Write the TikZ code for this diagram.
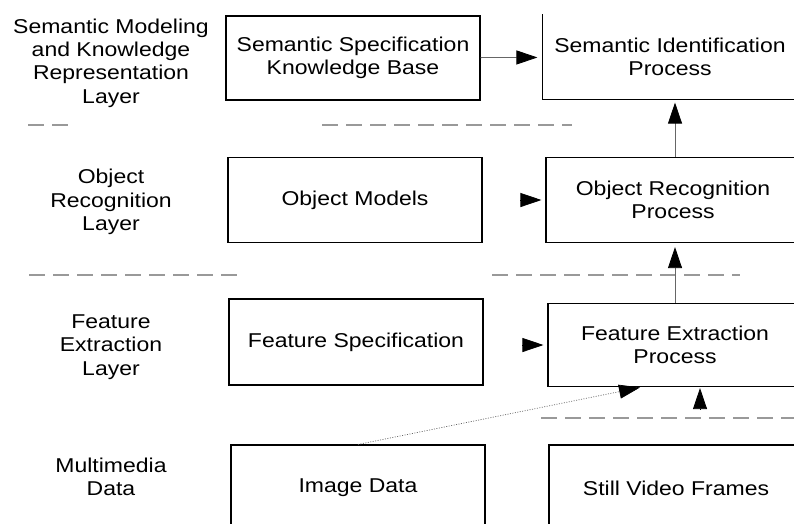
\documentclass[tikz,border=0pt]{standalone}
\usepackage{fontspec}
\setmainfont{Liberation Sans}[FakeStretch=1.15]
\usetikzlibrary{arrows.meta}

\begin{document}
\begin{tikzpicture}[x=1pt,y=-1pt,
    every node/.style={font=\fontsize{20pt}{23.3pt}\selectfont, align=center, inner sep=0pt},
    box/.style={draw=black, line width=1.1pt, minimum width=254pt, minimum height=85pt},
    link/.style={draw=linkcolor, line width=0.8pt, -{Triangle[length=21pt,width=14pt,color=black]}},
    head/.style={-{Triangle[length=21pt,width=14pt]}, line width=0.8pt},
    sep/.style={draw=sepcolor, line width=1.2pt, dash pattern=on 16pt off 8pt}]

    \colorlet{linkcolor}{black!60}
    \colorlet{sepcolor}{black!40}

    \useasboundingbox (0,0) rectangle (794,523);

    % layer names
    \node (semlayer) at (111,63) {Semantic Modeling\\and Knowledge\\Representation\\Layer};
    \node (objlayer) at (111,202) {Object\\Recognition\\Layer};
    \node (featlayer) at (111,347) {Feature\\Extraction\\Layer};
    \node (datalayer) at (111,477) {Multimedia\\Data};

    % boxes
    \node[box, minimum height=84pt] (skb) at (353,58) {Semantic Specification\\Knowledge Base};
    \node[box, draw=none, minimum height=84pt] (sid) at (670,57) {Semantic Identification\\Process};
    \draw[line width=1.1pt] (sid.north west) -- (sid.south west) -- (sid.south east);

    \node[box] (om) at (355,200) {Object Models};
    \node[box] (orp) at (673,200) {Object Recognition\\Process};

    \node[box, minimum height=86pt] (fs) at (356,342) {Feature Specification};
    \node[box, minimum height=83pt] (fex) at (675,345) {Feature Extraction\\Process};

    \node[box, minimum height=86pt] (img) at (358,488) {Image Data};
    \node[box, minimum height=86pt] (svf) at (676,488) {Still Video Frames};

    % separators
    \draw[sep] (28,125) -- (68,125);
    \draw[sep] (322,125) -- (572,125);
    \draw[sep] (29,275) -- (237,275);
    \draw[sep] (492,275) -- (740,275);
    \draw[sep] (541,418) -- (794,418);

    % connectors
    \draw[link, shorten >=5pt] (skb) -- (sid);
    \draw[link, shorten >=3pt] (orp.north -| fex.north) -- (sid.south -| fex.north);
    \draw[link, shorten >=4pt] (fex.north) -- (orp.south -| fex.north);
    \draw[head] ([xshift=-25pt]orp.west) -- ([xshift=-4pt]orp.west);
    \draw[head] ([xshift=-25pt]fex.west) -- ([xshift=-4pt]fex.west);
    \draw[head] ([xshift=25pt,yshift=-22pt]fex.south) -- ([xshift=25pt,yshift=-1pt]fex.south);
    \draw[line width=0.7pt, linkcolor, dash pattern=on 1pt off 1.5pt,
          -{Triangle[length=21pt,width=14pt,color=black]}, shorten >=2pt]
        (img.north) -- ([xshift=-33pt]fex.south);

\end{tikzpicture}
\end{document}
